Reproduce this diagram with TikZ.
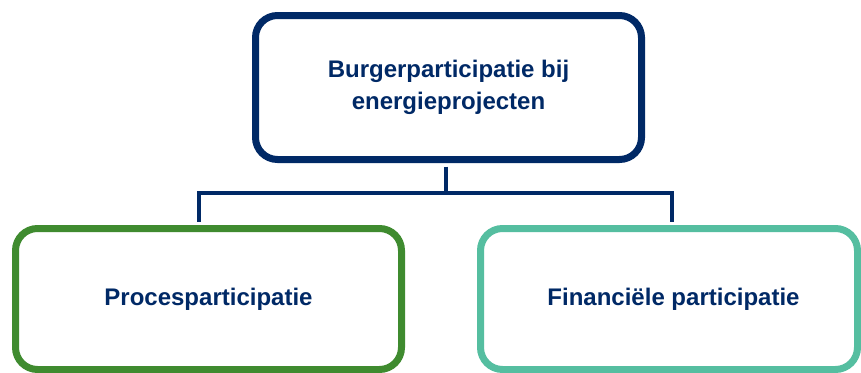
\documentclass[tikz,border=0pt]{standalone}
\usepackage{fontspec}
\setmainfont{Liberation Sans}
\usepackage{tikz}
\usetikzlibrary{positioning}
\definecolor{darkNavy}{RGB}{0,41,102}
\definecolor{leafGreen}{RGB}{63,139,47}
\definecolor{softTeal}{RGB}{85,190,160}

\begin{document}
\begin{tikzpicture}[x=1pt, y=-1pt,
  box/.style={draw, line width=7pt, rounded corners=22pt, fill=white, align=center,
    text=darkNavy, font=\fontsize{24}{32}\selectfont\bfseries, minimum width=386pt},
  conn/.style={draw=darkNavy, line width=3.2pt, shorten <=3.5pt, shorten >=3.5pt}]
	\useasboundingbox (0,0) rectangle (861,372);
	% boxes
	\node[box, draw=darkNavy, minimum height=144pt] (burger) at (448.5,87.5) {Burgerparticipatie bij\\energieprojecten};
	\node[box, draw=leafGreen, minimum height=141pt] (proces) at (208.5,299) {Procesparticipatie};
	\node[box, draw=softTeal, minimum height=141pt, minimum width=377pt] (financ) at (669,299) {\hspace*{9pt}Financiële participatie};
	% tree lines
	\coordinate (fork) at (446,193);
	\draw[conn, shorten >=0pt] (burger.south -| fork) -- (fork);
	\draw[conn, shorten <=0pt] (fork) -| ([xshift=-9.5pt]proces.north);
	\draw[conn, shorten <=0pt] (fork) -| ([xshift=3pt]financ.north);
\end{tikzpicture}
\end{document}
